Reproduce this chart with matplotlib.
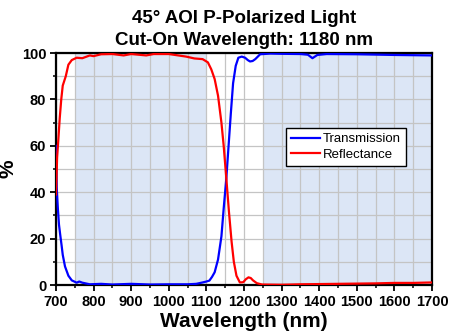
import matplotlib
matplotlib.use('Agg')
import matplotlib.pyplot as plt
from matplotlib.ticker import MultipleLocator

plt.rcParams['font.family'] = ['Liberation Sans', 'DejaVu Sans']

# transmission (blue)
wl_t = [700, 702, 705, 708, 711, 715, 718, 724, 733, 742, 755, 762, 770, 790, 820, 850,
        900, 950, 1000, 1050, 1073, 1090, 1100, 1108, 1115, 1122, 1131, 1140, 1146, 1153,
        1159, 1165, 1171, 1178, 1185, 1194, 1203, 1210, 1216, 1223, 1230, 1243, 1270, 1300,
        1350, 1370, 1382, 1395, 1420, 1500, 1600, 1700]
trans = [60, 42, 33, 26, 22, 17, 13, 8, 4, 2, 1, 1.5, 1, 0.3, 0.5, 0.2,
         0.5, 0.2, 0.3, 0.3, 0.5, 1.1, 1.5, 1.9, 3.5, 5.5, 11, 21, 33, 46,
         60, 74, 87, 94.5, 98, 98.5, 98, 97, 96.4, 96.6, 97.4, 99.5, 99.8, 99.7,
         99.6, 99.3, 97.8, 99.2, 99.6, 99.5, 99.2, 99.0]

# reflectance (red)
wl_r = [700, 703, 706, 710, 714, 718, 722, 726, 733, 742, 755, 770, 790, 800, 820, 850,
        880, 900, 940, 960, 1000, 1046, 1068, 1090, 1104, 1113, 1122, 1131, 1140, 1146,
        1153, 1160, 1167, 1173, 1180, 1189, 1198, 1205, 1212, 1218, 1224, 1234, 1248, 1300,
        1350, 1400, 1450, 1500, 1550, 1600, 1650, 1700]
refl = [39, 55, 62, 72, 80, 86, 88, 90, 95, 97, 98, 97.8, 99, 98.7, 99.5, 99.6,
        99, 99.6, 99, 99.6, 99.6, 98.5, 97.7, 97.4, 96, 93, 88.8, 81.6, 70, 60,
        46, 31.6, 18.7, 10, 4, 1.1, 1.2, 2.5, 3.3, 3, 2, 0.8, 0.2, 0.1,
        0.3, 0.4, 0.5, 0.6, 0.7, 0.9, 0.9, 1.1]

# shaded bands (nm)
bands = [(750, 1100), (1250, 1700)]

fig = plt.figure(figsize=(4.5, 3.34), dpi=100)
ax = fig.add_axes([0.1244, 0.1467, 0.8356, 0.6943])

for lo, hi in bands:
    ax.axvspan(lo, hi, color='#dce6f6', lw=0, zorder=0.1)

ax.plot(wl_t, trans, color='#0000ff', lw=1.6, label='Transmission', zorder=3)
ax.plot(wl_r, refl, color='#ff0000', lw=1.6, label='Reflectance', zorder=3)

ax.set_xlim(700, 1700)
ax.set_ylim(0, 100)
ax.xaxis.set_major_locator(MultipleLocator(100))
ax.xaxis.set_minor_locator(MultipleLocator(50))
ax.yaxis.set_major_locator(MultipleLocator(20))
ax.yaxis.set_minor_locator(MultipleLocator(10))
ax.set_axisbelow(True)
ax.grid(which='both', color='#c4c4c4', lw=0.9)

ax.tick_params(which='major', direction='out', length=4, width=1.3, labelsize=10.5, pad=3)
ax.tick_params(which='minor', direction='out', length=2.5, width=1.1)
for lab in ax.get_xticklabels() + ax.get_yticklabels():
    lab.set_fontweight('bold')
for sp in ax.spines.values():
    sp.set_linewidth(1.6)

ax.set_xlabel('Wavelength (nm)', fontsize=15, fontweight='bold', labelpad=2)
ax.set_ylabel('%', fontsize=15, fontweight='bold', labelpad=3)
ax.set_title('45° AOI P-Polarized Light\nCut-On Wavelength: 1180 nm',
             fontsize=13.5, fontweight='bold', linespacing=1.4, pad=6)

leg = ax.legend(loc='center left', bbox_to_anchor=(0.593, 0.595), fontsize=9.5,
                fancybox=False, framealpha=1, edgecolor='black', handlelength=2.2,
                borderpad=0.38, labelspacing=0.27, handletextpad=0.27)
leg.get_frame().set_linewidth(1.0)

fig.savefig('out.png', dpi=100)
